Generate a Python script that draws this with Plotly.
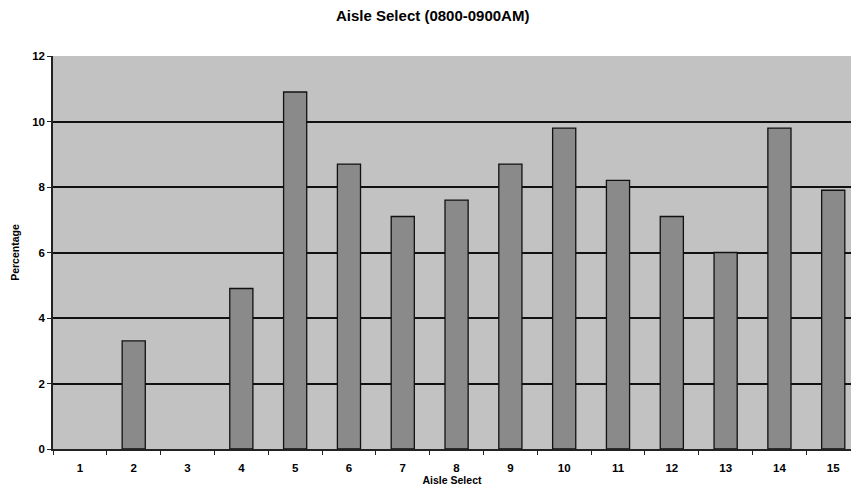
import plotly.graph_objects as go

aisles = list(range(1, 16))
tick_labels = [str(a) for a in aisles]
percentages = [0, 3.3, 0, 4.9, 10.9, 8.7, 7.1, 7.6, 8.7, 9.8, 8.2, 7.1, 6.0, 9.8, 7.9]

fig = go.Figure()
fig.add_trace(go.Bar(
    x=aisles, y=percentages,
    marker=dict(color="#8a8a8a",
                line=dict(color="#111111", width=[0 if v == 0 else 1.3 for v in percentages])),
    width=0.43,
))

fnt = "Liberation Sans, Arial, sans-serif"
fig.update_layout(
    width=851, height=490,
    margin=dict(l=53, r=0, t=56, b=41),
    paper_bgcolor="white",
    plot_bgcolor="#c2c2c2",
    showlegend=False,
    font=dict(family=fnt, color="black"),
    annotations=[
        dict(text="<b>Aisle Select (0800-0900AM)</b>",
             x=(432 - 53) / 798, y=1 + (56 - 15) / 393, xref="paper", yref="paper",
             xanchor="center", yanchor="middle",
             showarrow=False, font=dict(size=15, family=fnt)),
    ],
)

fig.update_xaxes(
    range=[0.5, 15.33],
    tickmode="array", tickvals=aisles, ticktext=[f"<b>{t}</b>" for t in tick_labels],
    ticks="", tickfont=dict(size=11.5, family=fnt), ticklabelstandoff=7,
    showgrid=False, zeroline=False,
    showline=True, linecolor="#222222", linewidth=1.5,
    minor=dict(ticks="outside", tick0=0.5, dtick=1, ticklen=4, tickcolor="#222222", tickwidth=1.2),
    title=dict(text="<b>Aisle Select</b>", font=dict(size=10.5, family=fnt), standoff=0),
)
fig.update_yaxes(
    range=[0, 12], tickvals=[0, 2, 4, 6, 8, 10, 12],
    ticktext=[f"<b>{v}</b>" for v in [0, 2, 4, 6, 8, 10, 12]],
    tickfont=dict(size=11.5, family=fnt),
    ticks="outside", ticklen=4, tickcolor="#222222", tickwidth=1.2,
    showgrid=True, gridcolor="#111111", gridwidth=1.6,
    zeroline=False,
    showline=True, linecolor="#222222", linewidth=1.5,
    title=dict(text="<b>Percentage</b>", font=dict(size=10.5, family=fnt), standoff=10),
)

fig.write_html("out.html")
